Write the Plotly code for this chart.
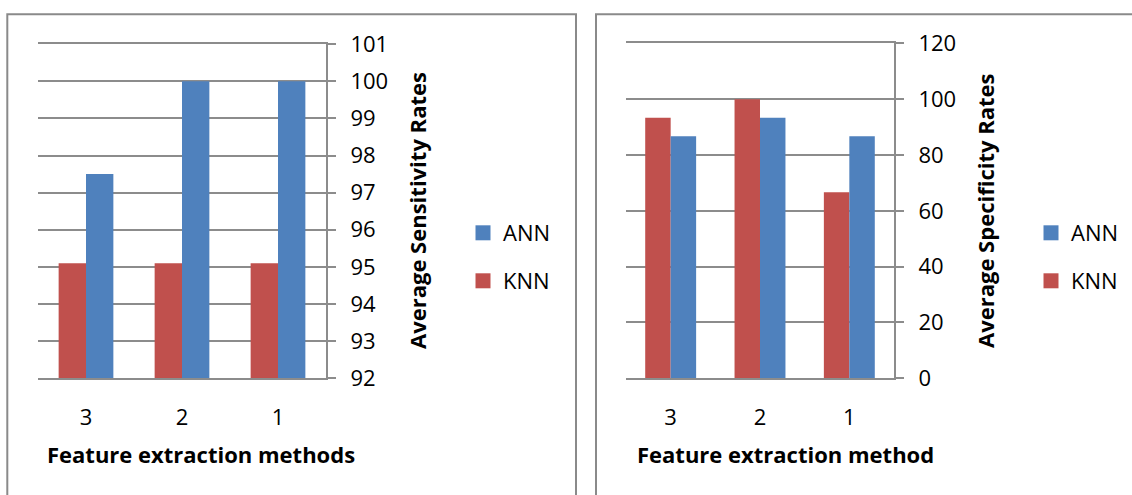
import plotly.graph_objects as go

# ---- data ----
categories = ["3", "2", "1"]
sens_knn = [95.1, 95.1, 95.1]
sens_ann = [97.5, 100, 100]
spec_knn = [93.33, 100, 66.67]
spec_ann = [86.67, 93.33, 86.67]
sens_ticks = list(range(92, 102))
spec_ticks = list(range(0, 121, 20))

W, H = 1132, 495
FONT = "Open Sans"
RED = "#C0504D"
BLUE = "#4F81BD"
GRID = "#8C8C8C"

def px(x):
    return x / W

def py(y):
    return 1 - y / H

fig = go.Figure()

# left chart
fig.add_trace(go.Bar(x=categories, y=sens_knn, name="KNN", marker=dict(color=RED, line=dict(width=0)),
                     xaxis="x", yaxis="y", showlegend=False))
fig.add_trace(go.Bar(x=categories, y=sens_ann, name="ANN", marker=dict(color=BLUE, line=dict(width=0)),
                     xaxis="x", yaxis="y", showlegend=False))
# right chart
fig.add_trace(go.Bar(x=categories, y=spec_knn, name="KNN", marker=dict(color=RED, line=dict(width=0)),
                     xaxis="x2", yaxis="y2", showlegend=False))
fig.add_trace(go.Bar(x=categories, y=spec_ann, name="ANN", marker=dict(color=BLUE, line=dict(width=0)),
                     xaxis="x2", yaxis="y2", showlegend=False))

# legend entries (one legend per entry for exact placement)
legend_specs = [
    ("ANN", BLUE, "legend", 463, 233),
    ("KNN", RED, "legend2", 463, 281),
    ("ANN", BLUE, "legend3", 1031, 233),
    ("KNN", RED, "legend4", 1031, 281),
]
for name, col, lg, lx, ly in legend_specs:
    fig.add_trace(go.Scatter(x=[None], y=[None], mode="markers", name=name,
                             marker=dict(symbol="square", size=15, color=col),
                             xaxis="x", yaxis="y", legend=lg, showlegend=True))

tickfont = dict(family=FONT, size=22, color="#000000")
titlefont = dict(family=FONT, size=22, color="#000000")

common_y = dict(side="right", showgrid=True, gridcolor=GRID, gridwidth=2,
                showline=True, linecolor=GRID, linewidth=2,
                ticks="outside", ticklen=8, tickwidth=2, tickcolor=GRID,
                tickfont=tickfont, zeroline=False, ticklabelstandoff=10)
common_x = dict(type="category", showgrid=False, showline=True, mirror=True,
                linecolor=GRID, linewidth=2, ticks="",
                tickfont=tickfont, zeroline=False, ticklabelstandoff=18)

legend_base = dict(font=dict(family=FONT, size=22, color="#000000"), bgcolor="rgba(0,0,0,0)",
                   borderwidth=0, xanchor="left", yanchor="middle", itemsizing="trace",
                   itemwidth=30, tracegroupgap=0)

layout = dict(
    width=W, height=H, margin=dict(l=0, r=0, t=0, b=0, pad=0, autoexpand=False),
    paper_bgcolor="white", plot_bgcolor="white",
    bargap=0.43, bargroupgap=0,
    barmode="group",
    xaxis=dict(domain=[px(38), px(326)], anchor="y", **common_x),
    yaxis=dict(domain=[py(378.3), py(44.1)], anchor="x", range=[92, 101],
               tickvals=sens_ticks, **common_y),
    xaxis2=dict(domain=[px(626), px(894)], anchor="y2", **common_x),
    yaxis2=dict(domain=[py(378.3), py(43.3)], anchor="x2", range=[0, 120],
                tickvals=spec_ticks, **common_y),
    shapes=[
        dict(type="rect", xref="paper", yref="paper", x0=px(7.3), x1=px(576), y0=py(520), y1=py(14.3),
             line=dict(color="#8A8A8A", width=2)),
        dict(type="rect", xref="paper", yref="paper", x0=px(596), x1=px(1160), y0=py(520), y1=py(14.3),
             line=dict(color="#8A8A8A", width=2)),
    ],
    annotations=[
        dict(text="<b>Average Sensitivity Rates</b>", xref="paper", yref="paper",
             x=px(417), y=py(211), textangle=-90, showarrow=False, font=titlefont,
             xanchor="center", yanchor="middle"),
        dict(text="<b>Average Specificity Rates</b>", xref="paper", yref="paper",
             x=px(985), y=py(211), textangle=-90, showarrow=False, font=titlefont,
             xanchor="center", yanchor="middle"),
        dict(text="<b>Feature extraction methods</b>", xref="paper", yref="paper",
             x=px(45), y=py(454), showarrow=False, font=titlefont,
             xanchor="left", yanchor="middle"),
        dict(text="<b>Feature extraction method</b>", xref="paper", yref="paper",
             x=px(635), y=py(454), showarrow=False, font=titlefont,
             xanchor="left", yanchor="middle"),
    ],
)
for name, col, lg, lx, ly in legend_specs:
    layout[lg] = dict(x=px(lx), y=py(ly), **legend_base)

fig.update_layout(**layout)
fig.write_html("out.html")
